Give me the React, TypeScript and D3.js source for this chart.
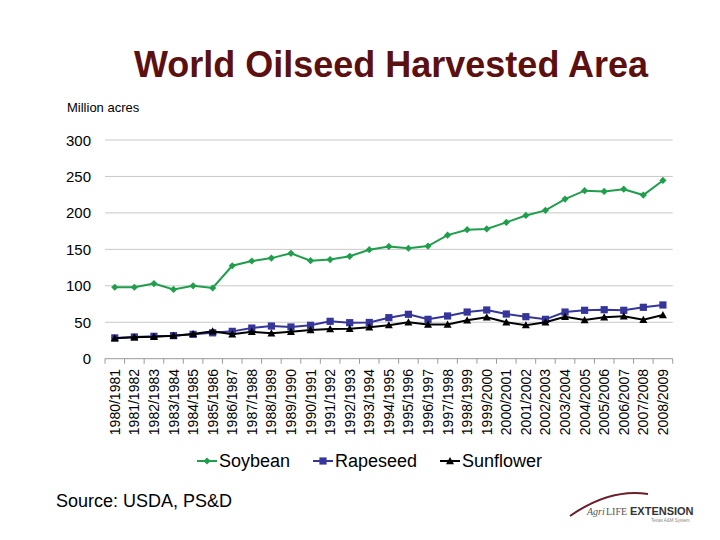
import React from "react";
import * as d3 from "d3";

const categories = [
  "1980/1981","1981/1982","1982/1983","1983/1984","1984/1985","1985/1986","1986/1987","1987/1988",
  "1988/1989","1989/1990","1990/1991","1991/1992","1992/1993","1993/1994","1994/1995","1995/1996",
  "1996/1997","1997/1998","1998/1999","1999/2000","2000/2001","2001/2002","2002/2003","2003/2004",
  "2004/2005","2005/2006","2006/2007","2007/2008","2008/2009",
];
const soybean = [98, 98, 103, 95, 100, 97, 127.5, 134, 138, 144.5, 134.5, 136, 140.5, 149.5, 154, 151.5, 154.5, 169.5, 177, 178, 187, 196.5, 203.5, 219, 230.5, 229.5, 232.5, 224.5, 244.5];
const rapeseed = [28.5, 29.8, 30.7, 31.6, 33.4, 35.5, 37.5, 42, 44.8, 43.5, 45.8, 51.3, 49.4, 49.7, 56.3, 60.9, 54, 58.6, 64, 66.8, 61.3, 57.6, 54, 64, 66.4, 67.2, 66.4, 70.5, 73.7];
const sunflower = [28, 29.5, 30, 31.6, 34, 37.5, 33.4, 37, 34.8, 37, 39.4, 40.7, 41, 43, 46, 49.9, 47, 47, 52.6, 56.8, 49.9, 46, 49.9, 57.6, 53, 56.8, 58.2, 53.5, 60];
const yTicks = [0, 50, 100, 150, 200, 250, 300];
const seriesNames = ["Soybean", "Rapeseed", "Sunflower"];
const seriesColors = ["#1f9e4c", "#35359a", "#000000"];

const W = 720, H = 540;
const left = 105, right = 672.7, top = 140, bottom = 358.7;

function Marker({ kind, x, y, color }: { kind: number; x: number; y: number; color: string }) {
  if (kind === 0) {
    const s = 3.6;
    return <path d={`M${x},${y - s}L${x + s},${y}L${x},${y + s}L${x - s},${y}Z`} fill={color} />;
  }
  if (kind === 1) {
    const s = 3.6;
    return <rect x={x - s} y={y - s} width={2 * s} height={2 * s} fill={color} />;
  }
  const s = 4;
  return <path d={`M${x},${y - s}L${x + s},${y + s * 0.8}L${x - s},${y + s * 0.8}Z`} fill={color} />;
}

export default function App() {
  const x = d3.scaleBand<string>().domain(categories).range([left, right]);
  const y = d3.scaleLinear().domain([0, 300]).range([bottom, top]);
  const all = [soybean, rapeseed, sunflower];
  const line = d3
    .line<number>()
    .x((_, i) => (x(categories[i]) as number) + x.bandwidth() / 2)
    .y((d) => y(d));
  const font = "Arial, 'Liberation Sans', Helvetica, sans-serif";
  const legendX = [197, 313, 440];
  return (
    <svg width={W} height={H} style={{ position: "absolute", left: 0, top: 0, background: "#fff" }} fontFamily={font}>
      <rect width={W} height={H} fill="#fff" />
      <text x={391} y={77} textAnchor="middle" fontSize={36} fontWeight="bold" fill="#5c1010">
        World Oilseed Harvested Area
      </text>
      <text x={67} y={112} fontSize={13} fill="#000">Million acres</text>
      {yTicks.map((t) => (
        <g key={t}>
          <line x1={left} x2={right} y1={y(t)} y2={y(t)} stroke={t === 0 ? "#9a9a9a" : "#c8c8c8"} strokeWidth={1} />
          <text x={91} y={y(t) + 5.5} textAnchor="end" fontSize={15} fill="#000">{t}</text>
        </g>
      ))}
      {categories.map((c, i) => (
        <line key={"tk" + i} x1={(x(c) as number)} x2={(x(c) as number)} y1={bottom} y2={bottom + 5} stroke="#9a9a9a" />
      ))}
      <line x1={right} x2={right} y1={bottom} y2={bottom + 5} stroke="#9a9a9a" />
      {categories.map((c, i) => {
        const cx = (x(c) as number) + x.bandwidth() / 2;
        return (
          <text key={"xl" + i} transform={`translate(${cx + 5},${369}) rotate(-90)`} textAnchor="end" fontSize={14} fill="#000">
            {c}
          </text>
        );
      })}
      {all.map((s, k) => (
        <g key={"s" + k}>
          <path d={line(s) || ""} fill="none" stroke={seriesColors[k]} strokeWidth={2} />
          {s.map((v, i) => (
            <Marker key={i} kind={k} x={(x(categories[i]) as number) + x.bandwidth() / 2} y={y(v)} color={seriesColors[k]} />
          ))}
        </g>
      ))}
      {seriesNames.map((n, k) => (
        <g key={"lg" + k}>
          <line x1={legendX[k]} x2={legendX[k] + 20} y1={461} y2={461} stroke={seriesColors[k]} strokeWidth={2} />
          <Marker kind={k} x={legendX[k] + 10} y={461} color={seriesColors[k]} />
          <text x={legendX[k] + 22} y={467} fontSize={18} fill="#000">{n}</text>
        </g>
      ))}
      <text x={56} y={507} fontSize={18} fill="#000">Source: USDA, PS&amp;D</text>
      <g>
        <path d="M570,516 Q610,488 648,494" fill="none" stroke="#6b1d2a" strokeWidth={2} />
        <text x={587} y={515} fontSize={10} fontStyle="italic" fontFamily="'Liberation Serif', serif" fill="#555">Agri</text>
        <text x={606} y={515} fontSize={10} fontFamily="'Liberation Serif', serif" fill="#555">LIFE</text>
        <text x={630} y={515} fontSize={11} fontWeight="bold" fill="#333">EXTENSION</text>
        <text x={651} y={522} fontSize={4.5} fill="#888">Texas A&amp;M System</text>
      </g>
    </svg>
  );
}
